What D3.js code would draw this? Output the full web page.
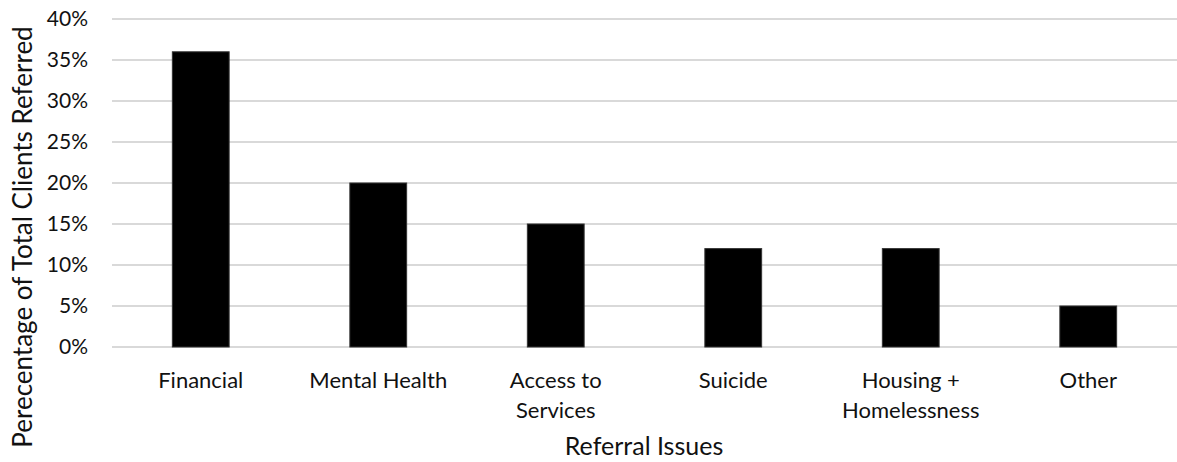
<!DOCTYPE html>
<html>
<head>
<meta charset="utf-8">
<script src="https://cdn.jsdelivr.net/npm/d3@7"></script>
<style>
  body { margin: 0; background: #fff; }
  text { font-family: Lato, "Open Sans", sans-serif; fill: #111; }
</style>
</head>
<body>
<div id="chart"></div>
<script>
var categories = ["Financial", "Mental Health", "Access to Services", "Suicide", "Housing + Homelessness", "Other"];
var labelLines = [["Financial"], ["Mental Health"], ["Access to", "Services"], ["Suicide"], ["Housing +", "Homelessness"], ["Other"]];
var values = [36, 20, 15, 12, 12, 5];
var yTicks = [0, 5, 10, 15, 20, 25, 30, 35, 40];

var width = 1177, height = 462;

var svg = d3.select("#chart").append("svg")
    .attr("width", width)
    .attr("height", height);

var x = d3.scaleBand()
    .domain(categories)
    .range([112, 1177])
    .paddingInner(0.68)
    .paddingOuter(0.34);

var y = d3.scaleLinear()
    .domain([0, 40])
    .range([347, 19]);

// gridlines
svg.append("g")
  .selectAll("line")
  .data(yTicks)
  .enter().append("line")
    .attr("x1", 112)
    .attr("x2", 1177)
    .attr("y1", function(d) { return y(d); })
    .attr("y2", function(d) { return y(d); })
    .attr("stroke", "#d9d9d9")
    .attr("stroke-width", 2);

// y axis labels
var yAxis = d3.axisLeft(y)
    .tickValues(yTicks)
    .tickSize(0)
    .tickPadding(0)
    .tickFormat(function(d) { return d + "%"; });

var yg = svg.append("g")
    .attr("transform", "translate(88,0)")
    .call(yAxis);
yg.select(".domain").remove();
yg.selectAll("text")
    .style("font-size", "21px")
    .style("font-family", "Lato, 'Open Sans', sans-serif")
    .attr("fill", "#111");

// bars
svg.append("g")
  .selectAll("rect")
  .data(values)
  .enter().append("rect")
    .attr("x", function(d, i) { return x(categories[i]); })
    .attr("y", function(d) { return y(d); })
    .attr("width", x.bandwidth())
    .attr("height", function(d) { return y(0) - y(d); })
    .attr("fill", "#000")
    .attr("stroke", "#333")
    .attr("stroke-width", 1);

// category labels
var xl = svg.append("g")
  .selectAll("text")
  .data(categories)
  .enter().append("text")
    .attr("text-anchor", "middle")
    .attr("x", function(d) { return x(d) + x.bandwidth() / 2; })
    .attr("y", 388)
    .style("font-size", "22px");

xl.each(function(d, i) {
  var t = d3.select(this);
  labelLines[i].forEach(function(line, j) {
    t.append("tspan")
      .attr("x", x(d) + x.bandwidth() / 2)
      .attr("dy", j == 0 ? 0 : 30)
      .text(line);
  });
});

// axis titles
svg.append("text")
    .attr("text-anchor", "middle")
    .attr("x", 644)
    .attr("y", 455)
    .style("font-size", "25px")
    .text("Referral Issues");

svg.append("text")
    .attr("text-anchor", "middle")
    .attr("transform", "translate(32,237) rotate(-90)")
    .style("font-size", "26px")
    .text("Perecentage of Total Clients Referred");
</script>
</body>
</html>
